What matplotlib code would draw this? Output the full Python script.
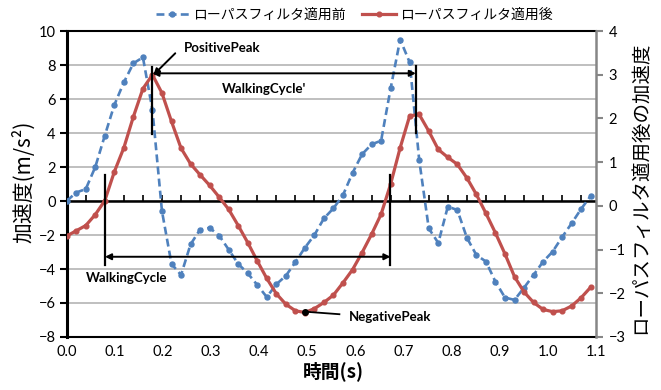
import numpy as np
import matplotlib.pyplot as plt
from matplotlib.lines import Line2D

plt.rcParams['font.family'] = ['Lato', 'Noto Sans CJK JP', 'DejaVu Sans']

# sampling step (s) and the two series
dt = 0.0198
before = [0.0, 0.5, 0.7, 2.0, 3.85, 5.65, 6.98, 8.1, 8.45, 5.35,
          -0.6, -3.7, -4.35, -2.55, -1.68, -1.58, -2.03, -2.86, -3.7, -4.25,
          -4.94, -5.65, -4.9, -4.4, -3.6, -2.75, -2.0, -1.02, -0.43, 0.35,
          1.65, 2.75, 3.33, 3.55, 6.63, 9.5, 8.15, 2.4, -1.61, -2.47,
          -0.33, -0.53, -2.16, -3.18, -3.56, -4.75, -5.68, -5.82, -5.1, -4.35,
          -3.57, -2.98, -2.12, -1.31, -0.46, 0.3]
after = [-0.69, -0.57, -0.45, -0.2, 0.12, 0.78, 1.33, 2.04, 2.68, 3.0,
         2.58, 1.93, 1.32, 0.96, 0.71, 0.47, 0.2, -0.08, -0.45, -0.84,
         -1.26, -1.66, -2.01, -2.25, -2.4, -2.44, -2.35, -2.21, -2.04, -1.76,
         -1.46, -1.07, -0.65, -0.19, 0.5, 1.33, 2.06, 2.09, 1.71, 1.29,
         1.11, 0.95, 0.64, 0.26, -0.17, -0.62, -1.1, -1.62, -1.97, -2.21,
         -2.37, -2.42, -2.4, -2.29, -2.1, -1.86]
t = np.arange(len(before)) * dt

x_ticks = [0.0, 0.1, 0.2, 0.3, 0.4, 0.5, 0.6, 0.7, 0.8, 0.9, 1.0, 1.1]
x_labels = ['0.0', '0.1', '0.2', '0.3', '0.4', '0.5', '0.6', '0.7', '0.8', '0.9', '1.0', '1.1']
left_ticks = [-8, -6, -4, -2, 0, 2, 4, 6, 8, 10]
right_ticks = [-3, -2, -1, 0, 1, 2, 3, 4]

blue = '#4F81BD'
red = '#C0504D'
jp = ['Noto Sans CJK JP', 'DejaVu Sans']

fig = plt.figure(figsize=(6.61, 3.90), dpi=100)
ax = fig.add_axes([0.1009, 0.1359, 0.8008, 0.7846])
ax2 = ax.twinx()

ax.set_xlim(0, 1.1)
ax.set_ylim(-8, 10)
ax2.set_ylim(-3, 4)

ax.set_yticks(left_ticks)
ax.set_xticks(x_ticks)
ax.set_xticklabels(x_labels)
ax2.set_yticks(right_ticks)

ax.grid(axis='y', color='#BFBFBF', lw=1.4)
ax.set_axisbelow(True)
ax.tick_params(axis='y', direction='out', length=5, width=1.5, color='black', labelsize=10.5, pad=3)
ax.tick_params(axis='x', length=0, labelsize=10.5, pad=6)
ax2.tick_params(axis='y', direction='out', length=5, width=1.5, color='#868686', labelsize=10.5, pad=4)

for s in ['left', 'top', 'bottom']:
    ax.spines[s].set_color('black')
ax.spines['left'].set_linewidth(2.2)
ax.spines['top'].set_linewidth(1.5)
ax.spines['bottom'].set_linewidth(1.5)
ax.spines['right'].set_visible(False)
for s in ['left', 'top', 'bottom']:
    ax2.spines[s].set_visible(False)
ax2.spines['right'].set_color('#868686')
ax2.spines['right'].set_linewidth(1.8)

# horizontal axis crossing at zero with small tick marks
ax.axhline(0, color='black', lw=1.8, zorder=2)
ax.vlines(np.arange(2 * dt, 1.1, 2 * dt), 0, 0.33, color='black', lw=1.2, zorder=2)

ax.plot(t, before, color=blue, lw=1.9, dashes=(3, 1.6), marker='o', ms=3.6, zorder=3)
ax2.plot(t, after, color=red, lw=2.3, marker='o', ms=3.4, zorder=3)

# annotations (left-axis coordinates)
tr = ax.transData
k = dict(color='black', lw=1.6, transform=tr, zorder=5)
ax2.plot([0.0796, 0.0796], [1.55, -3.76], **k)
ax2.plot([0.6728, 0.6728], [1.55, -3.76], **k)
ax2.plot([0.178, 0.178], [7.9, 3.94], **k)
ax2.plot([0.7256, 0.7256], [7.96, 3.98], **k)
arr = dict(arrowstyle='<|-|>', color='black', lw=1.4, mutation_scale=9, shrinkA=0, shrinkB=0)
ax2.annotate('', xy=(0.6728, -3.28), xytext=(0.0796, -3.28), xycoords=tr, arrowprops=arr, zorder=5)
ax2.annotate('', xy=(0.7256, 7.51), xytext=(0.178, 7.51), xycoords=tr, arrowprops=arr, zorder=5)
ax2.annotate('', xy=(0.18, 7.41), xytext=(0.2256, 8.69), xycoords=tr,
             arrowprops=dict(arrowstyle='-|>', color='black', lw=1.4, mutation_scale=9,
                             shrinkA=0, shrinkB=0), zorder=5)
bold = dict(fontsize=9.5, fontweight='bold', va='center', ha='left', transform=tr, zorder=6)
ax2.text(0.244, 9.02, 'PositivePeak', **bold)
ax2.text(0.3222, 6.57, "WalkingCycle'", **bold)
ax2.text(0.0401, -4.55, 'WalkingCycle', **bold)
ax2.text(0.5854, -6.81, 'NegativePeak', **bold)
ax2.plot([0.495, 0.5667], [-6.51, -6.66], color='black', lw=1.3, transform=tr, zorder=5)
ax2.plot([0.495], [-6.51], 'o', color='black', ms=4, transform=tr, zorder=6)

# axis titles
fig.text(24 / 661, 1 - 182 / 390, '加速度(m/s²)', rotation=90, ha='center', va='center',
         fontsize=15, family=jp)
fig.text(641 / 661, 1 - 188 / 390, 'ローパスフィルタ適用後の加速度', rotation=90, ha='center',
         va='center', fontsize=14, family=jp)
fig.text(333 / 661, 1 - 371 / 390, '時間(s)', ha='center', va='center', fontsize=13.5,
         fontweight='bold', family=jp)

handles = [Line2D([], [], color=blue, lw=1.9, dashes=(3, 1.6), marker='o', ms=3.6),
           Line2D([], [], color=red, lw=2.3, marker='o', ms=3.4)]
fig.legend(handles, ['ローパスフィルタ適用前', 'ローパスフィルタ適用後'], loc='center',
           bbox_to_anchor=(354 / 661, 1 - 15 / 390), ncol=2, frameon=False,
           prop={'family': jp, 'size': 10}, handlelength=2.4, columnspacing=1.2, handletextpad=0.3)

fig.savefig('out.png', dpi=100)
